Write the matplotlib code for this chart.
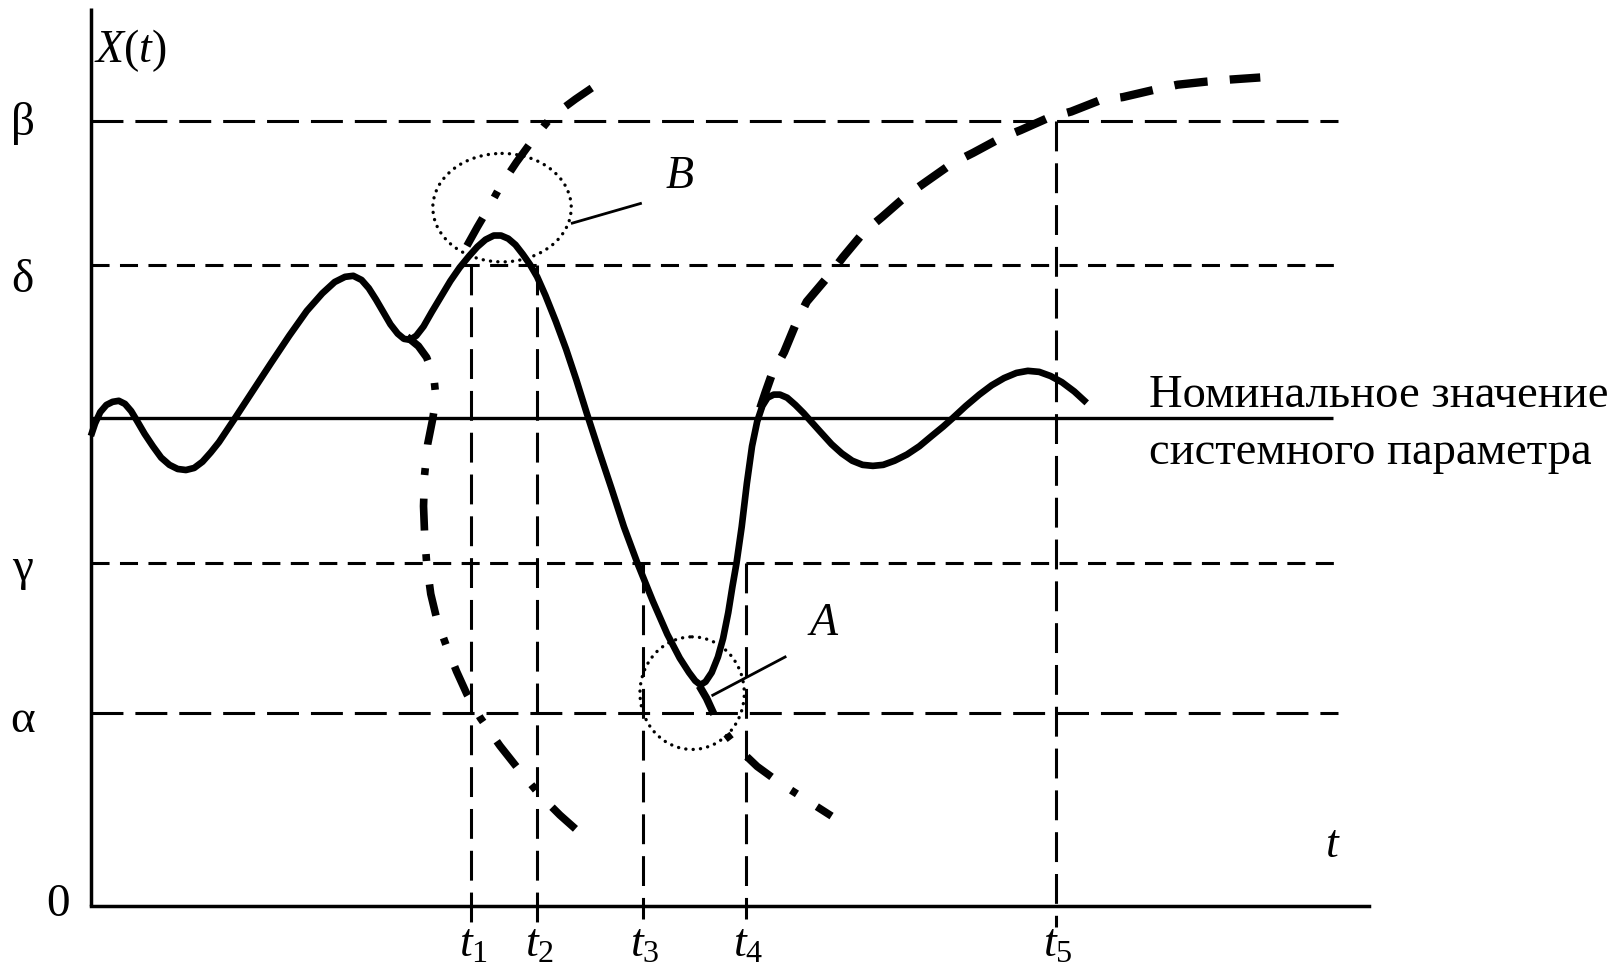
import matplotlib
matplotlib.use("Agg")
import matplotlib.pyplot as plt
from matplotlib.patches import Ellipse

plt.rcParams['font.family'] = ['Liberation Serif', 'DejaVu Serif']
plt.rcParams['mathtext.fontset'] = 'custom'
plt.rcParams['mathtext.rm'] = 'Liberation Serif'
plt.rcParams['mathtext.it'] = 'Liberation Serif:italic'
plt.rcParams['lines.scale_dashes'] = False

# ---------------- data (diagram units) ----------------
axis_x0, axis_y0 = 88, 877          # origin
axis_top, axis_right = 8, 1325

level_names = ['β', 'δ', 'γ', 'α']
level_y = [117, 257, 545, 690]
level_style = ['long', 'short', 'short', 'long']
level_label_y = [131, 283, 561, 709]
level_end = 1295

nominal_y = 405
nominal_end = 1290
nominal_text = ['Номинальное значение', 'системного параметра']

t_names = ['$t_1$', '$t_2$', '$t_3$', '$t_4$', '$t_5$']
t_x = [456, 520, 622, 722, 1022]
t_top = [257, 257, 545, 545, 117]
t_bottom = [897, 897, 890, 890, 897]

# main solid process curve X(t)
curve_x = [88, 92, 97, 103, 109, 115, 121, 127, 133, 140, 148, 156, 164, 172, 180,
           188, 196, 204, 212, 220, 228, 245, 262, 280, 297, 312, 324, 334, 342,
           350, 357, 364, 371, 378, 385, 391, 397, 403, 410, 418, 427, 436, 445,
           454, 462, 470, 478, 485, 492, 499, 506, 513, 520, 528, 538, 548, 558,
           568, 580, 592, 604, 617, 632, 646, 658, 667, 673, 678, 683, 689, 695,
           700, 705, 709, 713, 718, 723, 728, 733, 738, 743, 749, 755, 762, 770,
           778, 786, 795, 805, 815, 825, 835, 845, 855, 866, 878, 890, 902, 913,
           922, 935, 948, 960, 972, 984, 995, 1006, 1017, 1028, 1040, 1052]
curve_y = [422, 410, 399, 392, 389, 388, 391, 398, 408, 420, 432, 443, 450, 454, 455,
           453, 447, 438, 428, 416, 404, 378, 352, 325, 301, 284, 273, 268, 267,
           271, 279, 290, 302, 314, 323, 328, 329, 325, 316, 302, 287, 272, 259,
           248, 239, 232, 228, 228, 231, 237, 246, 256, 268, 286, 311, 338, 368,
           400, 437, 473, 510, 545, 582, 614, 637, 651, 659, 663, 660, 651, 636,
           618, 593, 568, 545, 510, 468, 432, 408, 393, 385, 382, 382, 385, 392,
           400, 409, 419, 430, 439, 446, 450, 451, 450, 446, 440, 432, 422, 413,
           405, 393, 382, 373, 366, 361, 359, 360, 364, 370, 379, 390]

# dash-dot boundary curve (left part, from the kink downwards)
dd1_x = [394, 405, 413, 420, 422, 419, 414, 411, 410, 411, 413, 417, 423, 432, 442,
         452, 465, 484, 503, 523, 542, 560]
dd1_y = [326, 335, 346, 365, 385, 405, 430, 460, 490, 516, 545, 575, 600, 625, 650,
         672, 695, 722, 746, 770, 789, 805]
# dash-dot boundary curve (upper part through B)
dd2_x = [452, 462, 472, 484, 500, 516, 534, 557, 579]
dd2_y = [238, 220, 203, 181, 157, 135, 113, 96, 81]
# dash-dot boundary curve (lower part from A)
dd3_x = [677, 684, 695, 712, 733, 755, 780, 805]
dd3_y = [664, 676, 700, 722, 742, 758, 774, 790]

# dashed recovery curve
dsh_x = [736, 741, 747, 759, 771, 781, 803, 816, 836, 854, 878, 895, 922, 942,
         968, 988, 1015, 1037, 1065, 1087, 1117, 1140, 1168, 1191, 1220]
dsh_y = [395, 380, 363, 341, 312, 292, 266, 249, 225, 210, 189, 177, 158, 148,
         134, 126, 114, 108, 97, 94, 87, 82, 79, 77, 75]

# annotation ellipses and leaders
ell_names = ['$B$', '$A$']
ell_center = [(486, 201), (670, 671)]
ell_size = [(134, 105), (101, 109)]
lead_start = [(554, 216), (690, 673)]
lead_end = [(620, 197), (760, 636)]
ell_label_pos = [(644, 182), (781, 615)]

# ---------------- drawing ----------------
S = 1.033
fig = plt.figure(figsize=(16.19, 9.65), dpi=100)
ax = fig.add_axes([0, 0, 1, 1])
ax.set_xlim(0, 1619 / S)
ax.set_ylim(965 / S, 0)
ax.axis('off')

k = 'black'
dash_long = (0, (23, 8.6))
dash_short = (0, (13, 7.5))
dash_vert = (0, (21.5, 8.6))

# axes
ax.plot([axis_x0, axis_x0], [axis_y0, axis_top], color=k, lw=2.5, solid_capstyle='butt')
ax.plot([axis_x0, axis_right], [axis_y0, axis_y0], color=k, lw=2.5, solid_capstyle='projecting')

# levels
for name, y, st, ly in zip(level_names, level_y, level_style, level_label_y):
    ls = dash_long if st == 'long' else dash_short
    ax.plot([axis_x0, level_end], [y, y], color=k, lw=2.2, linestyle=ls,
            dash_capstyle='butt')
    ax.text(22, ly, name, fontsize=34, ha='center', va='baseline')

ax.text(56, 887, '0', fontsize=34, ha='center', va='baseline')
ax.text(91, 60, '$X(t)$', fontsize=33, ha='left', va='baseline')
ax.text(1283, 830, '$t$', fontsize=33, ha='left', va='baseline')

# nominal line
ax.plot([axis_x0, nominal_end], [nominal_y, nominal_y], color=k, lw=2.4,
        solid_capstyle='butt')
ax.text(1112, 394, nominal_text[0], fontsize=33.5, ha='left', va='baseline')
ax.text(1112, 449, nominal_text[1], fontsize=33.5, ha='left', va='baseline')

# time markers
for name, x, top, bot in zip(t_names, t_x, t_top, t_bottom):
    ax.plot([x, x], [top, bot], color=k, lw=2.2, linestyle=dash_vert,
            dash_capstyle='butt')
    ax.text(x - 12, 926, name, fontsize=33, ha='left', va='baseline')

# curves
ax.plot(curve_x, curve_y, color=k, lw=4.8, solid_joinstyle='round',
        solid_capstyle='butt')
dd_style = (0, (23, 17, 5, 17))
for xs, ys in [(dd1_x, dd1_y), (dd2_x, dd2_y), (dd3_x, dd3_y)]:
    ax.plot(xs, ys, color=k, lw=5.5, linestyle=dd_style, dash_capstyle='butt',
            dash_joinstyle='round')
ax.plot(dsh_x, dsh_y, color=k, lw=6.0, linestyle=(0, (24, 16)),
        dash_capstyle='butt', dash_joinstyle='round')

# ellipses with leaders
for name, c, sz, ls0, le0, lp in zip(ell_names, ell_center, ell_size, lead_start,
                                     lead_end, ell_label_pos):
    e = Ellipse(c, sz[0], sz[1], fill=False, edgecolor=k, lw=2.4,
                linestyle=(0, (0.1, 5.2)))
    e.set_capstyle('round')
    ax.add_patch(e)
    ax.plot([ls0[0], le0[0]], [ls0[1], le0[1]], color=k, lw=2.0)
    ax.text(lp[0], lp[1], name, fontsize=33, ha='left', va='baseline')

fig.savefig('out.png', dpi=100)
